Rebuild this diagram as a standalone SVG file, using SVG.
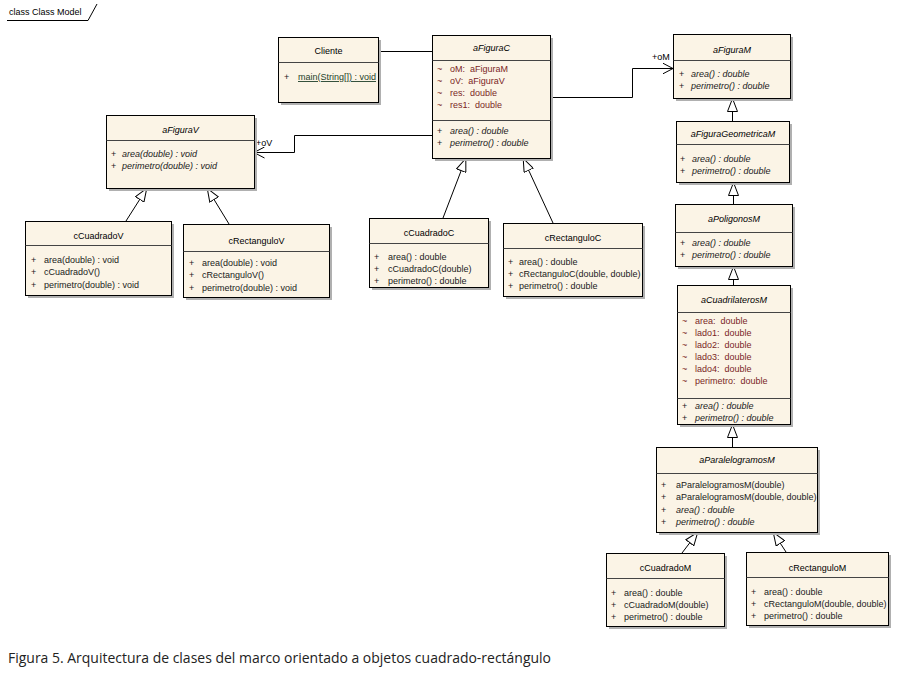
<svg xmlns="http://www.w3.org/2000/svg" width="898" height="677" viewBox="0 0 898 677">
<style>
.bg{fill:#ffffff}
.sh{fill:#b0b0b0}
.box{fill:#FBF4E6;stroke:#000;stroke-width:1}
.dv{stroke:#444;stroke-width:1}
.nm{font-family:"Liberation Sans",Arial,sans-serif;font-size:9px;text-anchor:middle;fill:#000}
.t{font-family:"Liberation Sans",Arial,sans-serif;font-size:9px;fill:#1a1a1a}
.at{fill:#7a1f1f;white-space:pre}
.it{font-style:italic}
.st{fill:#1f3f2a;text-decoration:underline}
.conn{stroke:#000;fill:none;stroke-width:1}
.lbl{font-family:"Liberation Sans",Arial,sans-serif;font-size:9px;fill:#000}
.cap{font-family:"Open Sans","Liberation Sans",sans-serif;font-size:14px;fill:#222}
</style>
<defs>
<marker id="gen" viewBox="0 0 14 11" refX="14" refY="5.5" markerWidth="14" markerHeight="11" orient="auto" markerUnits="userSpaceOnUse">
<path d="M0.5,0.5 L13.5,5.5 L0.5,10.5 Z" fill="#fff" stroke="#000" stroke-width="1"/>
</marker>
<marker id="open" viewBox="0 0 11 12" refX="10.5" refY="6" markerWidth="11" markerHeight="12" orient="auto" markerUnits="userSpaceOnUse">
<path d="M0,0.5 L10.5,6 L0,11.5" fill="none" stroke="#000" stroke-width="1"/>
</marker>
</defs>
<rect class="bg" x="0" y="0" width="898" height="677"/>

<g id="frame">
<text class="lbl" x="9" y="15">class Class Model</text>
<path class="conn" d="M7,20.5 H88 L97,4"/>
</g>

<g id="connectors">
<line class="conn" x1="378" y1="51.5" x2="432" y2="51.5"/>
<polyline class="conn" points="432,135.5 294.5,135.5 294.5,152.5 254,152.5" marker-end="url(#open)"/>
<text class="lbl" x="256" y="146">+oV</text>
<polyline class="conn" points="550,97.5 632.5,97.5 632.5,68.5 673,68.5" marker-end="url(#open)"/>
<text class="lbl" x="652" y="60">+oM</text>
<line class="conn" x1="126" y1="221" x2="147" y2="188" marker-end="url(#gen)"/>
<line class="conn" x1="229" y1="224" x2="207" y2="188" marker-end="url(#gen)"/>
<line class="conn" x1="443" y1="218" x2="466" y2="158" marker-end="url(#gen)"/>
<line class="conn" x1="553" y1="223" x2="523" y2="158" marker-end="url(#gen)"/>
<line class="conn" x1="732.5" y1="121" x2="732.5" y2="98" marker-end="url(#gen)"/>
<line class="conn" x1="733.5" y1="204" x2="733.5" y2="182" marker-end="url(#gen)"/>
<line class="conn" x1="733.5" y1="285" x2="733.5" y2="266" marker-end="url(#gen)"/>
<line class="conn" x1="732.5" y1="447" x2="732.5" y2="424" marker-end="url(#gen)"/>
<line class="conn" x1="682" y1="553" x2="698" y2="532" marker-end="url(#gen)"/>
<line class="conn" x1="786" y1="552" x2="773" y2="532" marker-end="url(#gen)"/>
</g>

<g id="Cliente">
<rect class="sh" x="281" y="40" width="100" height="65"/>
<rect class="box" x="278.5" y="37.5" width="100" height="65"/>
<line class="dv" x1="278.5" y1="62.5" x2="378.5" y2="62.5"/>
<text class="nm" x="328.5" y="54">Cliente</text>
<text class="t" x="284" y="80">+</text>
<text class="t st" x="298" y="80">main(String[]) : void</text>
</g>

<g id="aFiguraC">
<rect class="sh" x="435" y="38" width="118" height="123"/>
<rect class="box" x="432.5" y="35.5" width="118" height="123"/>
<line class="dv" x1="432.5" y1="60.5" x2="550.5" y2="60.5"/>
<line class="dv" x1="432.5" y1="120.5" x2="550.5" y2="120.5"/>
<text class="nm it" x="491.5" y="51">aFiguraC</text>
<text class="t at" x="437" y="72">~</text><text class="t at" x="450" y="72">oM:  aFiguraM</text>
<text class="t at" x="437" y="84">~</text><text class="t at" x="450" y="84">oV:  aFiguraV</text>
<text class="t at" x="437" y="96">~</text><text class="t at" x="450" y="96">res:  double</text>
<text class="t at" x="437" y="108">~</text><text class="t at" x="450" y="108">res1:  double</text>
<text class="t" x="437" y="134">+</text><text class="t it" x="450" y="134">area() : double</text>
<text class="t" x="437" y="146">+</text><text class="t it" x="450" y="146">perimetro() : double</text>
</g>

<g id="aFiguraV">
<rect class="sh" x="109" y="118" width="148" height="73"/>
<rect class="box" x="106.5" y="115.5" width="148" height="73"/>
<line class="dv" x1="106.5" y1="140.5" x2="254.5" y2="140.5"/>
<text class="nm it" x="180.5" y="133">aFiguraV</text>
<text class="t" x="111" y="157">+</text><text class="t it" x="122" y="157">area(double) : void</text>
<text class="t" x="111" y="169">+</text><text class="t it" x="122" y="169">perimetro(double) : void</text>
</g>

<g id="cCuadradoV">
<rect class="sh" x="28" y="224" width="146" height="74"/>
<rect class="box" x="25.5" y="221.5" width="146" height="74"/>
<line class="dv" x1="25.5" y1="245.5" x2="171.5" y2="245.5"/>
<text class="nm" x="98.5" y="239">cCuadradoV</text>
<text class="t" x="31" y="263">+</text><text class="t" x="44" y="263">area(double) : void</text>
<text class="t" x="31" y="275">+</text><text class="t" x="44" y="275">cCuadradoV()</text>
<text class="t" x="31" y="288">+</text><text class="t" x="44" y="288">perimetro(double) : void</text>
</g>

<g id="cRectanguloV">
<rect class="sh" x="186" y="227" width="146" height="73"/>
<rect class="box" x="183.5" y="224.5" width="146" height="73"/>
<line class="dv" x1="183.5" y1="251.5" x2="329.5" y2="251.5"/>
<text class="nm" x="256.5" y="244">cRectanguloV</text>
<text class="t" x="189" y="266">+</text><text class="t" x="202" y="266">area(double) : void</text>
<text class="t" x="189" y="278">+</text><text class="t" x="202" y="278">cRectanguloV()</text>
<text class="t" x="189" y="291">+</text><text class="t" x="202" y="291">perimetro(double) : void</text>
</g>

<g id="cCuadradoC">
<rect class="sh" x="372" y="221" width="119" height="69"/>
<rect class="box" x="369.5" y="218.5" width="119" height="69"/>
<line class="dv" x1="369.5" y1="243.5" x2="488.5" y2="243.5"/>
<text class="nm" x="429" y="236">cCuadradoC</text>
<text class="t" x="374" y="260">+</text><text class="t" x="388" y="260">area() : double</text>
<text class="t" x="374" y="272">+</text><text class="t" x="388" y="272">cCuadradoC(double)</text>
<text class="t" x="374" y="284">+</text><text class="t" x="388" y="284">perimetro() : double</text>
</g>

<g id="cRectanguloC">
<rect class="sh" x="506" y="226" width="139" height="73"/>
<rect class="box" x="503.5" y="223.5" width="139" height="73"/>
<line class="dv" x1="503.5" y1="248.5" x2="642.5" y2="248.5"/>
<text class="nm" x="573" y="241">cRectanguloC</text>
<text class="t" x="508" y="265">+</text><text class="t" x="519" y="265">area() : double</text>
<text class="t" x="508" y="277">+</text><text class="t" x="519" y="277">cRectanguloC(double, double)</text>
<text class="t" x="508" y="289">+</text><text class="t" x="519" y="289">perimetro() : double</text>
</g>

<g id="aFiguraM">
<rect class="sh" x="676" y="37" width="117" height="64"/>
<rect class="box" x="673.5" y="34.5" width="117" height="64"/>
<line class="dv" x1="673.5" y1="60.5" x2="790.5" y2="60.5"/>
<text class="nm it" x="732" y="53">aFiguraM</text>
<text class="t" x="679" y="77">+</text><text class="t it" x="691" y="77">area() : double</text>
<text class="t" x="679" y="89">+</text><text class="t it" x="691" y="89">perimetro() : double</text>
</g>

<g id="aFiguraGeometricaM">
<rect class="sh" x="679" y="124" width="113" height="61"/>
<rect class="box" x="676.5" y="121.5" width="113" height="61"/>
<line class="dv" x1="676.5" y1="144.5" x2="789.5" y2="144.5"/>
<text class="nm it" x="733" y="137">aFiguraGeometricaM</text>
<text class="t" x="680" y="162">+</text><text class="t it" x="692" y="162">area() : double</text>
<text class="t" x="680" y="174">+</text><text class="t it" x="692" y="174">perimetro() : double</text>
</g>

<g id="aPoligonosM">
<rect class="sh" x="678" y="207" width="117" height="62"/>
<rect class="box" x="675.5" y="204.5" width="117" height="62"/>
<line class="dv" x1="675.5" y1="232.5" x2="792.5" y2="232.5"/>
<text class="nm it" x="734" y="222">aPoligonosM</text>
<text class="t" x="680" y="246">+</text><text class="t it" x="692" y="246">area() : double</text>
<text class="t" x="680" y="258">+</text><text class="t it" x="692" y="258">perimetro() : double</text>
</g>

<g id="aCuadrilaterosM">
<rect class="sh" x="680" y="288" width="113" height="139"/>
<rect class="box" x="677.5" y="285.5" width="113" height="139"/>
<line class="dv" x1="677.5" y1="312.5" x2="790.5" y2="312.5"/>
<line class="dv" x1="677.5" y1="398.5" x2="790.5" y2="398.5"/>
<text class="nm it" x="734" y="303">aCuadrilaterosM</text>
<text class="t at" x="682" y="324">~</text><text class="t at" x="695" y="324">area:  double</text>
<text class="t at" x="682" y="336">~</text><text class="t at" x="695" y="336">lado1:  double</text>
<text class="t at" x="682" y="348">~</text><text class="t at" x="695" y="348">lado2:  double</text>
<text class="t at" x="682" y="360">~</text><text class="t at" x="695" y="360">lado3:  double</text>
<text class="t at" x="682" y="372">~</text><text class="t at" x="695" y="372">lado4:  double</text>
<text class="t at" x="682" y="384">~</text><text class="t at" x="695" y="384">perimetro:  double</text>
<text class="t" x="682" y="409">+</text><text class="t it" x="695" y="409">area() : double</text>
<text class="t" x="682" y="421">+</text><text class="t it" x="695" y="421">perimetro() : double</text>
</g>

<g id="aParalelogramosM">
<rect class="sh" x="659" y="450" width="161" height="85"/>
<rect class="box" x="656.5" y="447.5" width="161" height="85"/>
<line class="dv" x1="656.5" y1="473.5" x2="817.5" y2="473.5"/>
<text class="nm it" x="737" y="463">aParalelogramosM</text>
<text class="t" x="661" y="488">+</text><text class="t" x="676" y="488">aParalelogramosM(double)</text>
<text class="t" x="661" y="500">+</text><text class="t" x="676" y="500">aParalelogramosM(double, double)</text>
<text class="t" x="661" y="513">+</text><text class="t it" x="676" y="513">area() : double</text>
<text class="t" x="661" y="525">+</text><text class="t it" x="676" y="525">perimetro() : double</text>
</g>

<g id="cCuadradoM">
<rect class="sh" x="609" y="556" width="118" height="73"/>
<rect class="box" x="606.5" y="553.5" width="118" height="73"/>
<line class="dv" x1="606.5" y1="578.5" x2="724.5" y2="578.5"/>
<text class="nm" x="665.5" y="571">cCuadradoM</text>
<text class="t" x="611" y="596">+</text><text class="t" x="624" y="596">area() : double</text>
<text class="t" x="611" y="608">+</text><text class="t" x="624" y="608">cCuadradoM(double)</text>
<text class="t" x="611" y="620">+</text><text class="t" x="624" y="620">perimetro() : double</text>
</g>

<g id="cRectanguloM">
<rect class="sh" x="749" y="555" width="142" height="73"/>
<rect class="box" x="746.5" y="552.5" width="142" height="73"/>
<line class="dv" x1="746.5" y1="577.5" x2="888.5" y2="577.5"/>
<text class="nm" x="817.5" y="571">cRectanguloM</text>
<text class="t" x="751" y="595">+</text><text class="t" x="764" y="595">area() : double</text>
<text class="t" x="751" y="607">+</text><text class="t" x="764" y="607">cRectanguloM(double, double)</text>
<text class="t" x="751" y="619">+</text><text class="t" x="764" y="619">perimetro() : double</text>
</g>

<text class="cap" x="8" y="663" textLength="543" lengthAdjust="spacingAndGlyphs">Figura 5. Arquitectura de clases del marco orientado a objetos cuadrado-rectángulo</text>
</svg>
